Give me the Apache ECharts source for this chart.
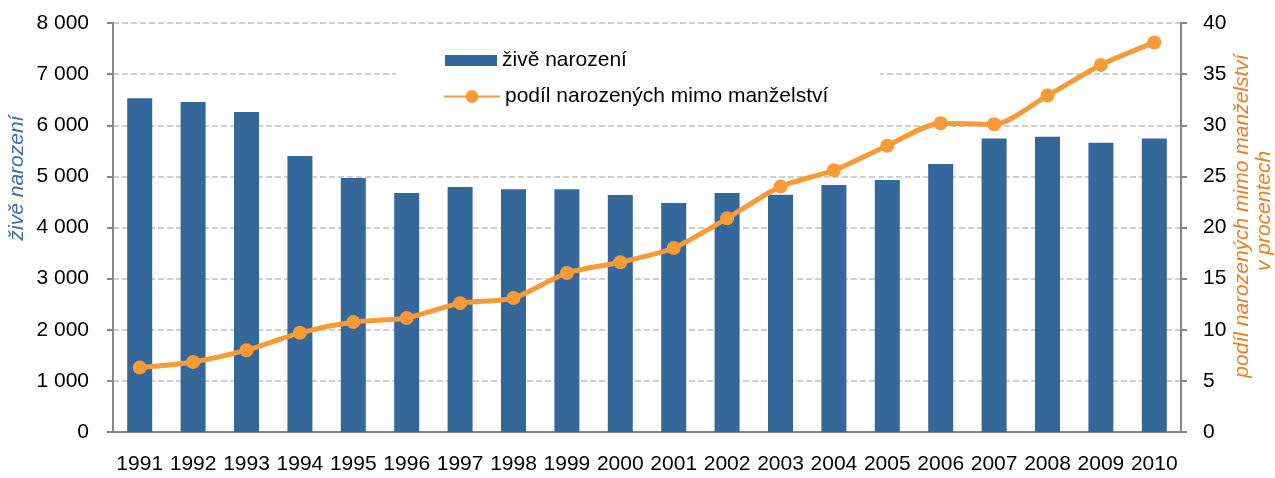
<!DOCTYPE html>
<html>
<head>
<meta charset="utf-8">
<script src="https://cdn.jsdelivr.net/npm/echarts@6/dist/echarts.min.js"></script>
<style>
    html, body { margin: 0; padding: 0; background: #fff; }
    #main { width: 1275px; height: 478px; }
</style>
</head>
<body>
<div id="main"></div>
<script>
    // data
    var years = ['1991', '1992', '1993', '1994', '1995', '1996', '1997', '1998', '1999', '2000',
                 '2001', '2002', '2003', '2004', '2005', '2006', '2007', '2008', '2009', '2010'];
    var births = [6530, 6455, 6260, 5400, 4970, 4675, 4790, 4750, 4750, 4635,
                  4480, 4675, 4640, 4830, 4930, 5240, 5740, 5775, 5660, 5740];
    var outsideShare = [6.3, 6.85, 8.0, 9.7, 10.75, 11.15, 12.6, 13.1, 15.55, 16.6,
                        18.0, 20.9, 24.0, 25.6, 28.0, 30.2, 30.1, 32.9, 35.9, 38.1];
    var seriesNames = ['živě narození', 'podíl narozených mimo manželství'];

    var font = 'Liberation Sans, Arial, sans-serif';
    var axisGray = '#868686';
    var legendText = { fontSize: 21, color: '#000', fontFamily: font };

    var myChart = echarts.init(document.getElementById('main'));
    myChart.setOption({
        animation: false,
        textStyle: { fontFamily: font },
        grid: { left: 113, right: 94, top: 23, bottom: 46 },
        legend: [
            {
                left: 440,
                top: 45,
                itemWidth: 52,
                itemHeight: 11,
                icon: 'rect',
                textStyle: legendText,
                data: [seriesNames[0]]
            },
            {
                left: 438,
                top: 81,
                itemWidth: 56,
                itemHeight: 16,
                textStyle: legendText,
                data: [seriesNames[1]]
            }
        ],
        xAxis: {
            type: 'category',
            data: years,
            axisLine: { lineStyle: { color: axisGray, width: 2 } },
            axisTick: { length: 6, lineStyle: { color: axisGray, width: 2 } },
            axisLabel: { fontSize: 21, color: '#000', margin: 22, interval: 0 }
        },
        yAxis: [
            {
                type: 'value',
                min: 0,
                max: 8000,
                interval: 1000,
                axisLine: { show: true, lineStyle: { color: axisGray, width: 2 } },
                axisTick: { show: true, length: 6, lineStyle: { color: axisGray, width: 2 } },
                axisLabel: {
                    fontSize: 21, color: '#000', margin: 24,
                    formatter: function (v) {
                        return String(v).replace(/\B(?=(\d{3})+(?!\d))/g, ' ');
                    }
                },
                splitLine: { lineStyle: { color: '#c0c0c0', width: 1.5, type: [6, 3] } }
            },
            {
                type: 'value',
                min: 0,
                max: 40,
                interval: 5,
                axisLine: { show: true, lineStyle: { color: axisGray, width: 2 } },
                axisTick: { show: true, length: 6, lineStyle: { color: axisGray, width: 2 } },
                axisLabel: { fontSize: 21, color: '#000', margin: 22 },
                splitLine: { show: false }
            }
        ],
        graphic: [
            {
                type: 'rect',
                z: 1,
                shape: { x: 396, y: 30, width: 484, height: 88 },
                style: { fill: '#fff' }
            },
            {
                type: 'text',
                x: 17, y: 178,
                rotation: Math.PI / 2,
                style: {
                    text: 'živě narození',
                    fontSize: 21, fontStyle: 'italic', fontFamily: font,
                    fill: '#3d6ea8', align: 'center', verticalAlign: 'middle'
                }
            },
            {
                type: 'text',
                x: 1242, y: 216,
                rotation: Math.PI / 2,
                style: {
                    text: 'podíl narozených mimo manželství',
                    fontSize: 21, fontStyle: 'italic', fontFamily: font,
                    fill: '#ef7d22', align: 'center', verticalAlign: 'middle'
                }
            },
            {
                type: 'text',
                x: 1264, y: 211,
                rotation: Math.PI / 2,
                style: {
                    text: 'v procentech',
                    fontSize: 21, fontStyle: 'italic', fontFamily: font,
                    fill: '#ef7d22', align: 'center', verticalAlign: 'middle'
                }
            }
        ],
        series: [
            {
                name: seriesNames[0],
                type: 'bar',
                data: births,
                barWidth: 25,
                itemStyle: { color: '#34679a' }
            },
            {
                name: seriesNames[1],
                type: 'line',
                yAxisIndex: 1,
                data: outsideShare,
                smooth: 0.25,
                symbol: 'circle',
                symbolSize: 14,
                lineStyle: { color: '#f89a36', width: 5 },
                itemStyle: { color: '#f89a36' }
            }
        ]
    });
</script>
</body>
</html>
